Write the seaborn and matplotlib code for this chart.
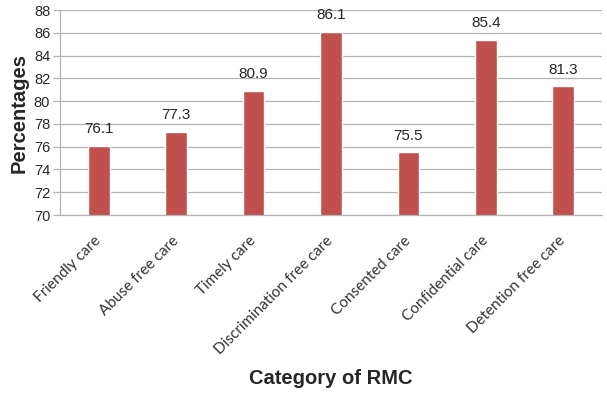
import pandas as pd
import numpy as np
import seaborn as sns
import matplotlib.pyplot as plt

# Chart data ##################################################################
categories = ['Friendly care', 'Abuse free care', 'Timely care',
              'Discrimination free care', 'Consented care',
              'Confidential care', 'Detention free care']
percentages = [76.1, 77.3, 80.9, 86.1, 75.5, 85.4, 81.3]
y_ticks = [70, 72, 74, 76, 78, 80, 82, 84, 86, 88]

df = pd.DataFrame({'category': categories, 'pct': percentages})

sns.set_style('white')
plt.rcParams['font.family'] = ['Liberation Sans', 'DejaVu Sans']

fig = plt.figure(figsize=(6.07, 3.94), dpi=100)
ax = fig.add_axes([0.0988, 0.4543, 0.8930, 0.5203])

grid_col = '#B3B3B3'
for t in y_ticks:
    ax.axhline(t, color=grid_col, linewidth=0.9, zorder=0)

sns.barplot(data=df, x='category', y='pct', color='#C0504D',
            width=0.28, saturation=1, ax=ax, zorder=2)

# value labels
for i, v in enumerate(percentages):
    ax.annotate(f'{v:.1f}', (i, v), xytext=(0, 7), textcoords='offset points',
                ha='center', va='bottom', fontsize=11, color='#262626')

ax.set_ylim(70, 88)
ax.set_xlim(-0.5, len(categories) - 0.5)
ax.set_yticks(y_ticks)
ax.set_yticklabels([str(t) for t in y_ticks], fontsize=10.5, color='#262626')

ax.set_xticks(range(len(categories)))
ax.set_xticklabels(categories, rotation=45, ha='right', va='center',
                   rotation_mode='anchor', fontsize=11, color='#333333',
                   family=['Lato', 'DejaVu Sans'])
ax.tick_params(axis='x', length=0, pad=17)
ax.set_xticks(np.arange(-0.5, len(categories), 1), minor=True)
ax.tick_params(axis='x', which='minor', length=4, color=grid_col, width=0.9)
ax.tick_params(axis='y', length=5, color=grid_col, width=0.9, pad=2, left=True)

for s in ['top', 'right']:
    ax.spines[s].set_visible(False)
for s in ['left', 'bottom']:
    ax.spines[s].set_color(grid_col)
    ax.spines[s].set_linewidth(0.9)

ax.set_xlabel('')
ax.set_ylabel('Percentages', fontsize=14.5, fontweight='bold', labelpad=4)
fig.text(0.545, 0.04, 'Category of RMC', fontsize=14.5, fontweight='bold',
         ha='center', va='center')

plt.savefig('out.png', dpi=100)
